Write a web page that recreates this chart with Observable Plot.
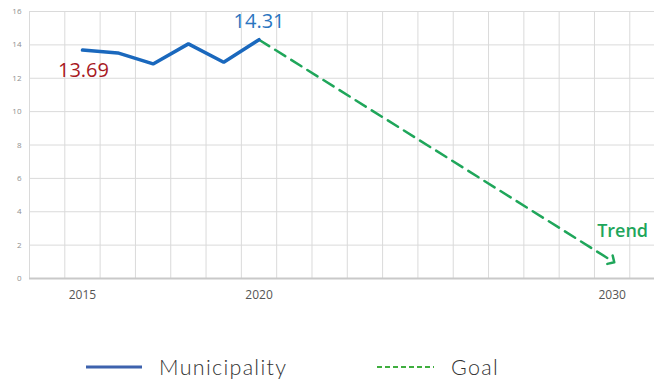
<!DOCTYPE html>
<html>
<head>
<meta charset="utf-8">
<script src="https://cdn.jsdelivr.net/npm/d3@7"></script>
<script src="https://cdn.jsdelivr.net/npm/@observablehq/plot@0.6"></script>
<style>
  html, body { margin: 0; padding: 0; background: #fff; }
  #wrap { position: relative; width: 654px; height: 383px; overflow: hidden; }
  #chart svg { display: block; }
  .legend { position: absolute; top: 352px; left: 0; width: 654px; height: 30px; font-family: Lato, "Open Sans", sans-serif; font-weight: 300; font-size: 21.5px; letter-spacing: 1.3px; color: #333; }
  .item { position: absolute; top: 0; height: 30px; display: flex; align-items: center; }
  .item svg { display: block; }
  .item span { margin-left: 17px; }
</style>
</head>
<body>
<div id="wrap">
  <div id="chart"></div>
  <div class="legend" id="legend"></div>
</div>
<script>
// ---- data ----
const years = [2015, 2016, 2017, 2018, 2019, 2020];
const municipality = [13.69, 13.52, 12.86, 14.06, 12.96, 14.31];
const goalYears = [2020, 2030];
const goalValues = [14.31, 1.05];
const yTicks = [0, 2, 4, 6, 8, 10, 12, 14, 16];
const xTickYears = [2015, 2020, 2030];
const seriesNames = ["Municipality", "Goal"];
const startLabel = "13.69";
const endLabel = "14.31";
const trendLabel = "Trend";

// ---- derived tables ----
const muniData = years.map((y, i) => ({year: y, value: municipality[i]}));
const goalData = goalYears.map((y, i) => ({year: y, value: goalValues[i]}));
const gridYears = d3.range(2013.5, 2031, 1); // band edges between years

const chart = Plot.plot({
  width: 654,
  height: 320,
  marginLeft: 29,
  marginRight: 0,
  marginTop: 11,
  marginBottom: 42,
  style: { fontFamily: "'Open Sans', sans-serif", background: "transparent", overflow: "visible" },
  x: { domain: [2013.5, 2031.2], axis: null, label: null },
  y: { domain: [0, 16], axis: null, label: null },
  marks: [
    Plot.gridX(gridYears, { stroke: "#dadada", strokeOpacity: 1, strokeWidth: 1 }),
    Plot.gridY(yTicks, { stroke: "#dadada", strokeOpacity: 1, strokeWidth: 1 }),
    Plot.ruleY([0], { stroke: "#c9c9c9", strokeWidth: 2 }),
    Plot.axisY(yTicks, { tickSize: 0, tickPadding: 8, fontSize: 8, fill: "#8f8f8f", label: null }),
    Plot.axisX(xTickYears, { tickSize: 0, tickPadding: 12, fontSize: 12, fill: "#555", tickFormat: d => String(d), label: null }),
    Plot.line(goalData, { x: "year", y: "value", stroke: "#1fa65a", strokeWidth: 2.5, strokeDasharray: "12,7", markerEnd: "arrow" }),
    Plot.line(muniData, { x: "year", y: "value", stroke: "#1a68bd", strokeWidth: 3.5, strokeLinejoin: "miter" }),
    Plot.text([muniData[0]], { x: "year", y: "value", text: () => startLabel, dx: 1, dy: 21, fontSize: 20, fill: "#a8191f" }),
    Plot.text([muniData[muniData.length - 1]], { x: "year", y: "value", text: () => endLabel, dx: 0, dy: -18, fontSize: 20, fill: "#2a75c0" }),
    Plot.text([goalData[goalData.length - 1]], { x: "year", y: "value", text: () => trendLabel, textAnchor: "start", dx: -15, dy: -30, fontSize: 18, fontWeight: 600, fill: "#1ea65b" })
  ]
});
document.getElementById("chart").appendChild(chart);

// ---- legend ----
const legend = document.getElementById("legend");
const items = [
  { name: seriesNames[0], left: 86, swatch: '<svg width="56" height="6"><line x1="0" y1="3" x2="56" y2="3" stroke="#3d62ad" stroke-width="3"/></svg>' },
  { name: seriesNames[1], left: 377, swatch: '<svg width="57" height="6"><line x1="0" y1="3" x2="57" y2="3" stroke="#3fae3f" stroke-width="2" stroke-dasharray="5,3"/></svg>' }
];
for (const it of items) {
  const div = document.createElement("div");
  div.className = "item";
  div.style.left = it.left + "px";
  div.innerHTML = it.swatch + "<span>" + it.name + "</span>";
  legend.appendChild(div);
}
</script>
</body>
</html>
